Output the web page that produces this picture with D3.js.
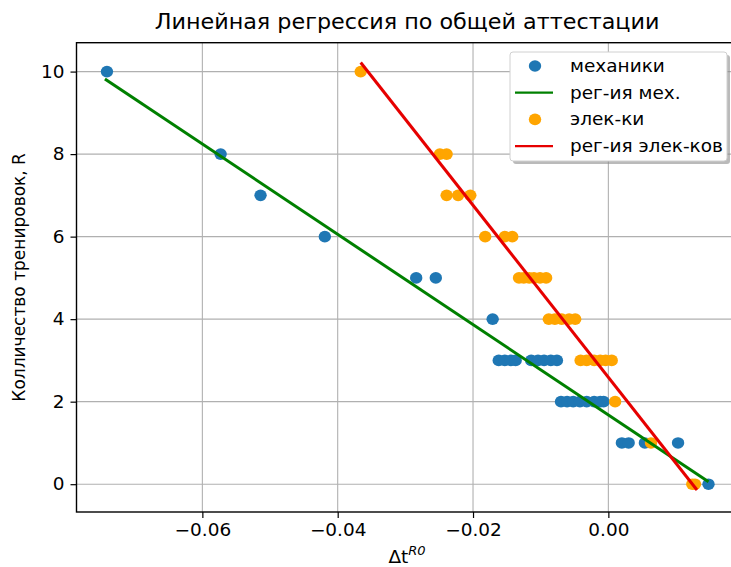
<!DOCTYPE html>
<html>
<head>
<meta charset="utf-8">
<script src="https://cdn.jsdelivr.net/npm/d3@7"></script>
<style>
  body { margin: 0; background: #fff; }
  svg { display: block; font-family: "DejaVu Sans", sans-serif; }
</style>
</head>
<body>
<div id="chart"></div>
<script>
// механики: Δt and number of trainings
const mechX = [-0.0741, -0.0573, -0.0514, -0.0419, -0.0284, -0.0255, -0.0171,
  -0.0162, -0.0153, -0.0144, -0.0137, -0.0114, -0.0104, -0.0095, -0.0085, -0.0076,
  -0.0070, -0.0061, -0.0052, -0.0042, -0.0032, -0.0021, -0.0012, -0.0007,
  0.0020, 0.0030, 0.0054, 0.0103, 0.0148];
const mechY = [10, 8, 7, 6, 5, 5, 4,
  3, 3, 3, 3, 3, 3, 3, 3, 3,
  2, 2, 2, 2, 2, 2, 2, 2,
  1, 1, 1, 1, 0];

// электрики
const elecX = [-0.0366, -0.0249, -0.0239, -0.0239, -0.0222, -0.0204,
  -0.0182, -0.0153, -0.0142,
  -0.0132, -0.0125, -0.0117, -0.0110, -0.0101, -0.0092,
  -0.0088, -0.0079, -0.0069, -0.0058, -0.0049,
  -0.0041, -0.0032, -0.0021, -0.0012, -0.0004, 0.0005,
  0.0010, 0.0063, 0.0124, 0.0128];
const elecY = [10, 8, 8, 7, 7, 7,
  6, 6, 6,
  5, 5, 5, 5, 5, 5,
  4, 4, 4, 4, 4,
  3, 3, 3, 3, 3, 3,
  2, 1, 0, 0];

// regression line end points
const mechLineX = [-0.0744, 0.0148];
const mechLineY = [9.82, 0.06];
const elecLineX = [-0.0366, 0.0131];
const elecLineY = [10.22, -0.14];

const xTicks = [-0.06, -0.04, -0.02, 0.00];
const yTicks = [0, 2, 4, 6, 8, 10];

const title = "Линейная регрессия по общей аттестации";
const yTitle = "Колличество тренировок, R";
const legendLabels = ["механики", "рег-ия мех.", "элек-ки", "рег-ия элек-ков"];

const W = 731, H = 567;
const box = {left: 76.5, right: 737.6, top: 42.7, bottom: 512};
const sx = 1.087; // the picture is a bit wider than tall, text too

const svg = d3.select("#chart").append("svg")
  .attr("width", W)
  .attr("height", H);

const x = d3.scaleLinear().domain([-0.0786, 0.0191]).range([box.left, box.right]);
const y = d3.scaleLinear().domain([-0.674, 10.70]).range([box.bottom, box.top]);

function label(parent, px, py, txt, size, rot) {
  return parent.append("text")
    .attr("transform", `translate(${px},${py})` + (rot ? ` rotate(${rot})` : "") + (rot ? ` scale(1,${sx})` : ` scale(${sx},1)`))
    .style("font-size", size + "px")
    .text(txt);
}

// grid
svg.append("g").selectAll("line").data(xTicks).enter().append("line")
  .attr("x1", d => x(d)).attr("x2", d => x(d))
  .attr("y1", box.top).attr("y2", box.bottom)
  .attr("stroke", "#b0b0b0").attr("stroke-width", 1.1);
svg.append("g").selectAll("line").data(yTicks).enter().append("line")
  .attr("x1", box.left).attr("x2", box.right)
  .attr("y1", d => y(d)).attr("y2", d => y(d))
  .attr("stroke", "#b0b0b0").attr("stroke-width", 1.1);

// scatter (drawn below the lines like matplotlib)
const mech = mechX.map((v, i) => ({x: v, y: mechY[i]}));
const elec = elecX.map((v, i) => ({x: v, y: elecY[i]}));

svg.append("g").selectAll("ellipse").data(mech).enter().append("ellipse")
  .attr("cx", d => x(d.x)).attr("cy", d => y(d.y)).attr("rx", 6.2).attr("ry", 5.8)
  .attr("fill", "#1f77b4");
svg.append("g").selectAll("ellipse").data(elec).enter().append("ellipse")
  .attr("cx", d => x(d.x)).attr("cy", d => y(d.y)).attr("rx", 6.2).attr("ry", 5.8)
  .attr("fill", "#ffa500");

const line = d3.line().x(d => x(d[0])).y(d => y(d[1]));
svg.append("path")
  .attr("d", line(mechLineX.map((v, i) => [v, mechLineY[i]])))
  .attr("fill", "none").attr("stroke", "#008000").attr("stroke-width", 3);
svg.append("path")
  .attr("d", line(elecLineX.map((v, i) => [v, elecLineY[i]])))
  .attr("fill", "none").attr("stroke", "#e60000").attr("stroke-width", 3);

// frame
svg.append("rect")
  .attr("x", box.left).attr("y", box.top)
  .attr("width", box.right - box.left).attr("height", box.bottom - box.top)
  .attr("fill", "none").attr("stroke", "#000").attr("stroke-width", 1.4);

// axes
const fmt = d => d3.format(".2f")(d).replace("-", "\u2212");
const xAxis = svg.append("g")
  .attr("transform", `translate(0,${box.bottom})`)
  .call(d3.axisBottom(x).tickValues(xTicks).tickFormat(fmt).tickSize(6).tickPadding(6));
const yAxis = svg.append("g")
  .attr("transform", `translate(${box.left},0)`)
  .call(d3.axisLeft(y).tickValues(yTicks).tickSize(6).tickPadding(5));
[xAxis, yAxis].forEach(a => {
  a.select(".domain").remove();
  a.selectAll(".tick line").attr("stroke", "#000").attr("stroke-width", 1.2);
  a.selectAll("text").attr("fill", "#000")
    .attr("transform", `scale(${sx},1)`)
    .style("font-family", "DejaVu Sans").style("font-size", "17px");
});

// titles
label(svg, (box.left + box.right) / 2, 29, title, 20.5).attr("text-anchor", "middle");
label(svg, 25, (box.top + box.bottom) / 2, yTitle, 17, -90).attr("text-anchor", "middle");

const xl = label(svg, (box.left + box.right) / 2, 563, "", 17).attr("text-anchor", "middle");
xl.append("tspan").text("Δt");
xl.append("tspan").attr("dy", -8).style("font-size", "12px").style("font-style", "italic").text("R0");

// legend
const lg = svg.append("g").attr("transform", "translate(510,52)");
const lw = 217, lh = 109;
lg.append("rect").attr("x", 3).attr("y", 3).attr("width", lw).attr("height", lh)
  .attr("rx", 3).attr("fill", "#8c8c8c").attr("opacity", 0.6);
lg.append("rect").attr("width", lw).attr("height", lh).attr("rx", 3)
  .attr("fill", "#fff").attr("stroke", "#d0d0d0").attr("stroke-width", 1);

const legendColors = ["#1f77b4", "#008000", "#ffa500", "#e60000"];
const legendKinds = ["dot", "line", "dot", "line"];
legendLabels.forEach((t, i) => {
  const ry = 14 + i * 26.7;
  if (legendKinds[i] === "dot") {
    lg.append("ellipse").attr("cx", 25).attr("cy", ry).attr("rx", 6.2).attr("ry", 5.8)
      .attr("fill", legendColors[i]);
  } else {
    lg.append("line").attr("x1", 5).attr("x2", 43).attr("y1", ry).attr("y2", ry)
      .attr("stroke", legendColors[i]).attr("stroke-width", 2.2);
  }
  label(lg, 60, ry + 6, t, 17);
});
</script>
</body>
</html>
